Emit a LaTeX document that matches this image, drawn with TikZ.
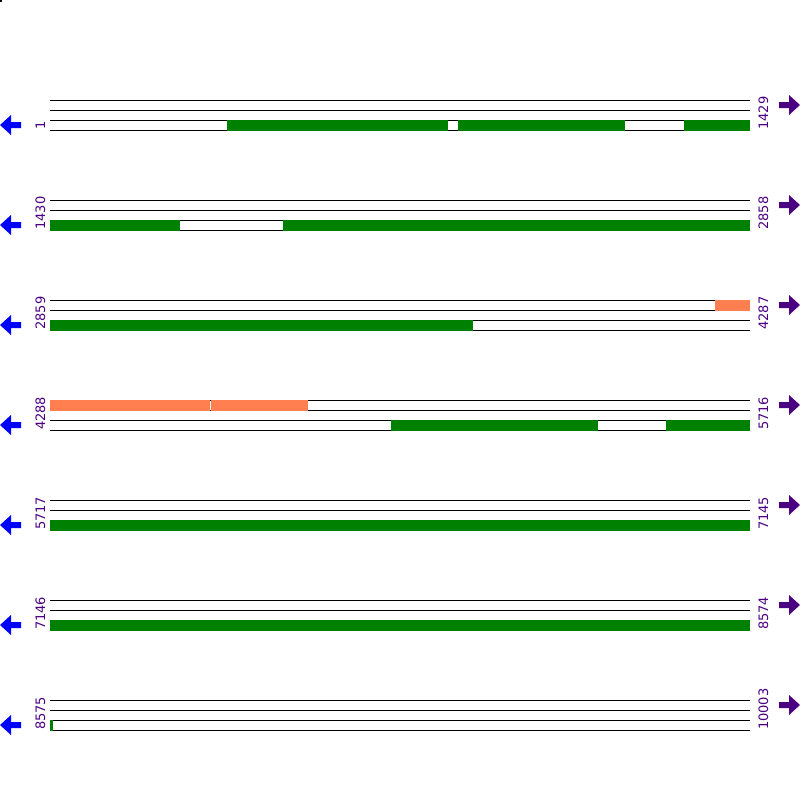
\documentclass[tikz,border=0pt]{standalone}
\usepackage{fontspec}
\setmainfont{DejaVu Sans}
\definecolor{gbar}{HTML}{008000}
\definecolor{obar}{HTML}{FF7F50}
\definecolor{lbl}{HTML}{4B0082}
\definecolor{larr}{HTML}{0000FF}
\begin{document}
\begin{tikzpicture}[x=1pt,y=-1pt,
  track/.style={line width=1pt,black},
  gbox/.style={fill=gbar,draw=none},
  obox/.style={fill=obar,draw=none},
  numlbl/.style={text=lbl,font=\fontsize{13}{13}\selectfont,rotate=90,inner sep=0pt,anchor=base west},
  leftarrow/.style={fill=larr,draw=none},
  rightarrow/.style={fill=lbl,draw=none}]
\useasboundingbox (0,0) rectangle (800,800);
\fill[black] (0,0) rectangle (2,2);
% tracks
\foreach \r in {0,...,6}{
  \pgfmathsetmacro{\yy}{100+100*\r}
  \foreach \k in {0,1,2,3}{
    \draw[track] (50,\yy+10*\k) -- (750,\yy+10*\k);
  }
  % left arrow
  \fill[leftarrow] (0,\yy+25) -- (11,\yy+15) -- (11,\yy+22) -- (21,\yy+22) -- (21,\yy+28) -- (11,\yy+28) -- (11,\yy+35) -- cycle;
  % right arrow
  \fill[rightarrow] (800,\yy+5) -- (789,\yy-5) -- (789,\yy+2) -- (779,\yy+2) -- (779,\yy+8) -- (789,\yy+8) -- (789,\yy+15) -- cycle;
}
% bars
\newcommand{\gb}[3]{\fill[gbox] (#1,#3+19.5) rectangle (#2,#3+30.5);}
\gb{227}{448}{100}\gb{458}{625}{100}\gb{684}{750}{100}
\gb{50}{180}{200}\gb{283}{750}{200}
\gb{50}{473}{300}
\gb{391}{598}{400}\gb{666}{750}{400}
\gb{50}{750}{500}
\gb{50}{750}{600}
\gb{50}{53}{700}
\fill[obox] (715,299.5) rectangle (750,310.5);
\fill[obox] (50,399.5) rectangle (210,410.5);
\fill[obox] (211,399.5) rectangle (308,410.5);
% labels
\node[numlbl] (l1) at (45,130) {1};
\node[numlbl] (l2) at (45,230) {1430};
\node[numlbl] (l3) at (45,330) {2859};
\node[numlbl] (l4) at (45,430) {4288};
\node[numlbl] (l5) at (45,530) {5717};
\node[numlbl] (l6) at (45,630) {7146};
\node[numlbl] (l7) at (45,730) {8575};
\node[numlbl] (r1) at (768,130) {1429};
\node[numlbl] (r2) at (768,230) {2858};
\node[numlbl] (r3) at (768,330) {4287};
\node[numlbl] (r4) at (768,430) {5716};
\node[numlbl] (r5) at (768,530) {7145};
\node[numlbl] (r6) at (768,630) {8574};
\node[numlbl] (r7) at (768,730) {10003};
\end{tikzpicture}
\end{document}
